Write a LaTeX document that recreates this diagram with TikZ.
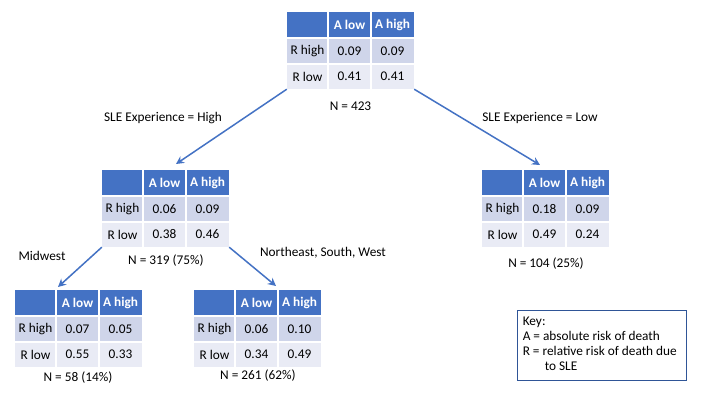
\documentclass[tikz,border=0pt]{standalone}
\usepackage{fontspec}
\setmainfont{Carlito}
\usetikzlibrary{arrows.meta}
\definecolor{hdr}{HTML}{4472C4}
\definecolor{rowA}{HTML}{CFD5EA}
\definecolor{rowB}{HTML}{E9EBF5}
\definecolor{keyborder}{HTML}{2F5597}
\tikzset{
  cell/.style={inner sep=0pt, font=\fontsize{13.3}{15}\selectfont},
  hcell/.style={cell, text=white, font=\fontsize{13.3}{15}\selectfont\bfseries},
  tblbox/.style={minimum width=127pt, minimum height=77pt, inner sep=0pt},
  conn/.style={draw=hdr, line width=1.5pt, -{Stealth[length=8pt,width=8pt]}},
  lbl/.style={font=\fontsize{13.3}{15}\selectfont, inner sep=0pt},
  keybox/.style={draw=keyborder, line width=0.9pt, minimum width=169pt, minimum height=70pt, inner sep=0pt}
}
\newcommand\riskTable[7]{%
  \begin{scope}[shift={(#2,#3)}]
    \fill[hdr] (0,0) rectangle (127,26);
    \fill[rowA] (0,26) rectangle (127,52);
    \fill[rowB] (0,52) rectangle (127,77);
    \draw[white, line width=1.2pt] (41,0) -- (41,77) (84,0) -- (84,77) (0,26) -- (127,26) (0,52) -- (127,52);
    \node[hcell] (#1h1) at (62.5,13) {A low};
    \node[hcell] (#1h2) at (105.5,13) {A high};
    \node[cell] (#1r1) at (20.5,39) {R high};
    \node[cell] (#1r2) at (20.5,64.5) {R low};
    \node[cell] (#1a) at (62.5,39) {#4};
    \node[cell] (#1b) at (105.5,39) {#5};
    \node[cell] (#1c) at (62.5,64.5) {#6};
    \node[cell] (#1d) at (105.5,64.5) {#7};
    \node[tblbox] (#1) at (63.5,38.5) {};
  \end{scope}}
\begin{document}
\begin{tikzpicture}[x=1pt,y=-1pt]
  \useasboundingbox[fill=white] (0,0) rectangle (720,405);
  \riskTable{tA}{287}{12}{0.09}{0.09}{0.41}{0.41}
  \riskTable{tB}{102}{170}{0.06}{0.09}{0.38}{0.46}
  \riskTable{tC}{482}{170}{0.18}{0.09}{0.49}{0.24}
  \riskTable{tD}{15}{290}{0.07}{0.05}{0.55}{0.33}
  \riskTable{tE}{194}{290}{0.06}{0.10}{0.34}{0.49}
  \node[lbl] (nA) at (350.5,106) {N = 423};
  \node[lbl] (nB) at (166,261) {N = 319 (75\%)};
  \node[lbl] (nC) at (546,264) {N = 104 (25\%)};
  \node[lbl] (nD) at (78,378) {N = 58 (14\%)};
  \node[lbl] (nE) at (258,376) {N = 261 (62\%)};
  \coordinate (pB) at (176,164);
  \coordinate (pC) at (540,165);
  \coordinate (pD) at (58,287);
  \coordinate (pE) at (276,286);
  \draw[conn] (tA.south west) -- (pB);
  \draw[conn] (tA.south east) -- (pC);
  \draw[conn] (tB.south west) -- (pD);
  \draw[conn] (tB.south east) -- (pE);
  \node[lbl] (eHigh) at (163,118) {SLE Experience = High};
  \node[lbl] (eLow) at (540,118) {SLE Experience = Low};
  \node[lbl] (mw) at (42,256) {Midwest};
  \node[lbl] (nsw) at (323,253) {Northeast, South, West};
  \node[keybox] (key) at (601.5,345) {};
  \node[lbl, anchor=north west, align=left, font=\fontsize{13.3}{15}\selectfont] (keytext) at ([xshift=6pt,yshift=-7pt]key.north west)
    {Key:\\A = absolute risk of death\\R = relative risk of death due\\\hspace*{22pt}to SLE};
\end{tikzpicture}
\end{document}
